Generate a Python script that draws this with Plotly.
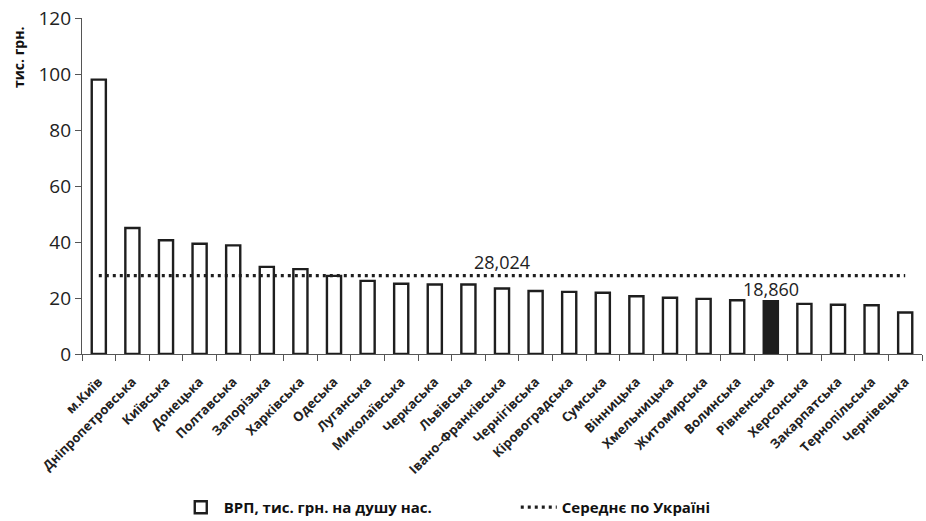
import plotly.graph_objects as go

regions = ["м.Київ", "Дніпропетровська", "Київська", "Донецька", "Полтавська",
           "Запорізька", "Харківська", "Одеська", "Луганська", "Миколаївська",
           "Черкаська", "Львівська", "Івано–Франківська", "Чернігівська",
           "Кіровоградська", "Сумська", "Вінницька", "Хмельницька", "Житомирська",
           "Волинська", "Рівненська", "Херсонська", "Закарпатська",
           "Тернопільська", "Чернівецька"]
grp = [98.0, 45.0, 40.6, 39.4, 38.8, 31.1, 30.3, 27.9, 26.1, 25.1,
       24.8, 24.8, 23.4, 22.5, 22.2, 21.9, 20.6, 20.1, 19.7, 19.2,
       18.86, 17.9, 17.6, 17.4, 14.8]
avg_ukraine = 28.024
highlight = "Рівненська"
y_ticks = [0, 20, 40, 60, 80, 100, 120]

dark = "#1e1e1e"
colors = [dark if r == highlight else "white" for r in regions]

fig = go.Figure()
fig.add_trace(go.Bar(
    x=regions, y=grp, name="ВРП, тис. грн. на душу нас.",
    marker=dict(color=colors, line=dict(color=dark, width=2.4)),
))
fig.add_trace(go.Scatter(
    x=regions, y=[avg_ukraine] * len(regions), mode="lines",
    name="Середнє по Україні",
    line=dict(color=dark, width=3.2, dash="3px,4px"),
))

def fmt(v):
    return f"{v:.3f}".replace(".", ",")

hi_idx = regions.index(highlight)
fig.add_annotation(x=regions[12], y=avg_ukraine, text=fmt(avg_ukraine),
                   showarrow=False, yanchor="bottom", yshift=0,
                   font=dict(family="Open Sans", size=18, color="#222"))
fig.add_annotation(x=regions[hi_idx], y=grp[hi_idx], text=fmt(grp[hi_idx]),
                   showarrow=False, yanchor="bottom", yshift=-2,
                   font=dict(family="Open Sans", size=18, color="#222"))
fig.add_annotation(xref="paper", yref="paper", x=0, y=1, xshift=-64, yshift=-40,
                   text="<b>тис. грн.</b>", textangle=-90, showarrow=False,
                   xanchor="center", yanchor="middle",
                   font=dict(family="Open Sans", size=14, color="#111"))

fig.update_layout(
    width=926, height=521,
    margin=dict(l=82, r=4, t=18, b=167),
    paper_bgcolor="white", plot_bgcolor="white",
    bargap=0.58,
    showlegend=True,
    legend=dict(orientation="h", x=0.114, xanchor="left",
                yref="container", y=0.026, yanchor="middle",
                font=dict(family="Open Sans", size=15, color="#111", weight="bold"),
                entrywidth=287, itemwidth=36, tracegroupgap=0),
    font=dict(family="Open Sans", color="#222"),
)
fig.update_yaxes(range=[0, 120], tickvals=y_ticks, showgrid=False, zeroline=False,
                 automargin=False,
                 showline=True, linecolor="#555", linewidth=1.2,
                 ticks="outside", ticklen=6, tickcolor="#555",
                 tickfont=dict(family="Open Sans", size=19, color="#222"))
fig.update_xaxes(showgrid=False, showline=True, linecolor="#555", linewidth=1.2,
                 automargin=False,
                 ticks="outside", ticklen=6, tickcolor="#555", tickson="boundaries",
                 tickangle=-45, ticklabelstandoff=14,
                 tickfont=dict(family="Open Sans", size=13, color="#222", weight="bold"))

fig.write_html("out.html",
               config={"displayModeBar": False},
               post_script="document.body.style.margin='0';document.body.style.overflow='hidden';")
